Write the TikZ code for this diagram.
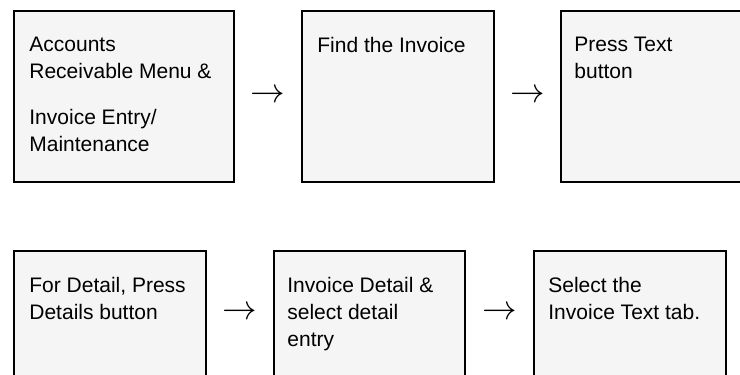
\documentclass[tikz,border=0pt]{standalone}
\usepackage{fontspec}
\setmainfont{Liberation Sans}
\usetikzlibrary{calc}

\definecolor{boxfill}{HTML}{F5F5F5}

\begin{document}
\begin{tikzpicture}[x=0.5pt, y=-0.5pt,
  stepbox/.style={draw=black, line width=1pt, fill=boxfill, anchor=north west,
    inner sep=0pt, minimum width=#1},
  toprow/.style={minimum height=85.5pt},
  botrow/.style={minimum height=64pt},
  steptext/.style={anchor=north west, inner sep=0pt, align=left,
    font=\fontsize{10.5}{13.5}\selectfont},
  steparrow/.style={inner sep=0pt, font=\fontsize{17}{20}\selectfont}]

  \useasboundingbox (0,0) rectangle (740,375);
  \clip (0,0) rectangle (740,375);

  % first row
  \node[stepbox=110pt, toprow] (b1) at (13,10) {};
  \node[stepbox=96pt, toprow] (b2) at (301,10) {};
  \node[stepbox=96pt, toprow] (b3) at (560,10) {};

  \node[steptext] (t1) at ($(b1.north west)+(16,27)$)
    {Accounts\\Receivable Menu \&\\[9.5pt]Invoice Entry/\\Maintenance};
  \node[steptext] (t2) at ($(b2.north west)+(16,27)$) {Find the Invoice};
  \node[steptext] (t3) at ($(b3.north west)+(14,27)$) {Press Text\\button};

  \node[steparrow] (a12) at ($(b1.east)!0.5!(b2.west)$) {$\rightarrow$};
  \node[steparrow] (a23) at ($(b2.east)!0.5!(b3.west)$) {$\rightarrow$};

  % second row
  \node[stepbox=96pt, botrow] (b4) at (13,250) {};
  \node[stepbox=95.5pt, botrow] (b5) at (273,250) {};
  \node[stepbox=96pt, botrow] (b6) at (533,250) {};

  \node[steptext] (t4) at ($(b4.north west)+(16,27)$) {For Detail, Press\\Details button};
  \node[steptext] (t5) at ($(b5.north west)+(14,27)$) {Invoice Detail \&\\select detail\\entry};
  \node[steptext] (t6) at ($(b6.north west)+(15,27)$) {Select the\\Invoice Text tab.};

  \node[steparrow] (a45) at ($(b4.east)!0.5!(b5.west)+(0,-2)$) {$\rightarrow$};
  \node[steparrow] (a56) at ($(b5.east)!0.5!(b6.west)+(0,-2)$) {$\rightarrow$};

\end{tikzpicture}
\end{document}
